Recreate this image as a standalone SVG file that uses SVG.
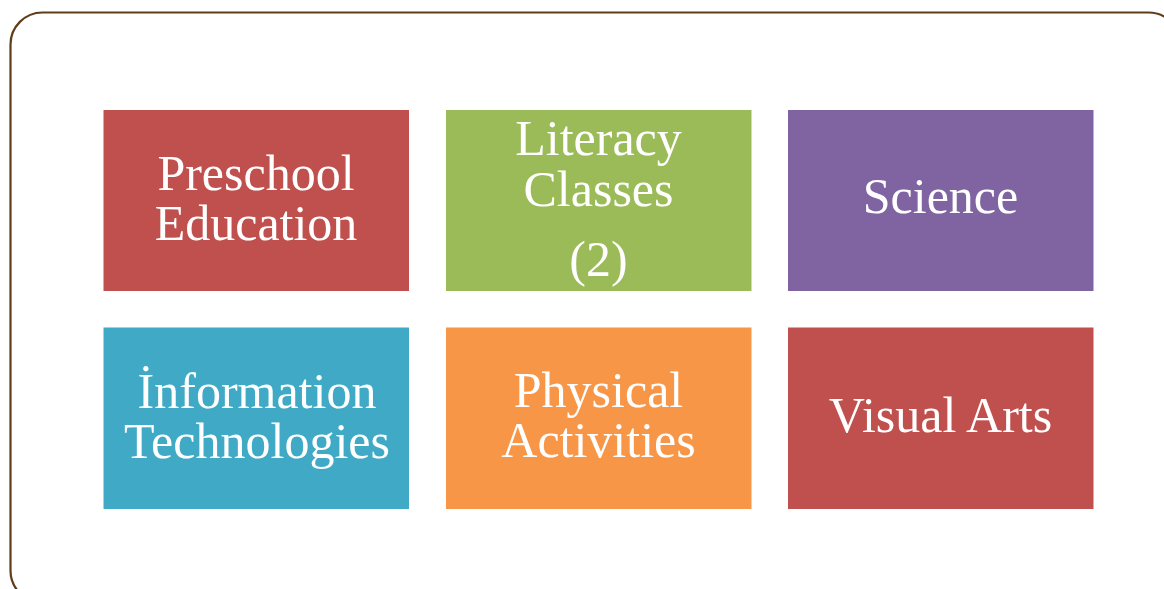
<svg xmlns="http://www.w3.org/2000/svg" width="1164" height="589" viewBox="0 0 1164 589">
<style>
.box{stroke:none}
.t{font-family:"Liberation Serif","Times New Roman",serif;font-size:50px;fill:#ffffff;text-anchor:middle}
</style>
<rect x="0" y="0" width="1164" height="589" fill="#ffffff"/>
<rect x="10.5" y="12.5" width="1170" height="590" rx="32" ry="32" fill="none" stroke="#5f3d1b" stroke-width="2.2"/>
<g id="preschool">
<rect class="box" x="103.5" y="110" width="305.5" height="181" fill="#C0504D"/>
<text class="t" x="256" y="190">Preschool</text>
<text class="t" x="256" y="240">Education</text>
</g>
<g id="literacy">
<rect class="box" x="446" y="110" width="305.5" height="181" fill="#9BBB59"/>
<text class="t" x="598.5" y="155">Literacy</text>
<text class="t" x="598.5" y="206">Classes</text>
<text class="t" x="598.5" y="276">(2)</text>
</g>
<g id="science">
<rect class="box" x="788" y="110" width="305.5" height="181" fill="#8064A2"/>
<text class="t" x="940.5" y="213">Science</text>
</g>
<g id="information">
<rect class="box" x="103.5" y="327.5" width="305.5" height="181.5" fill="#40AAC6"/>
<text class="t" x="257" y="408">İnformation</text>
<text class="t" x="257" y="458">Technologies</text>
</g>
<g id="physical">
<rect class="box" x="446" y="327.5" width="305.5" height="181.5" fill="#F79646"/>
<text class="t" x="598.5" y="407">Physical</text>
<text class="t" x="598.5" y="457">Activities</text>
</g>
<g id="visual">
<rect class="box" x="788" y="327.5" width="305.5" height="181.5" fill="#C0504D"/>
<text class="t" x="940.5" y="432">Visual Arts</text>
</g>
<g id="connectors"></g>
</svg>
